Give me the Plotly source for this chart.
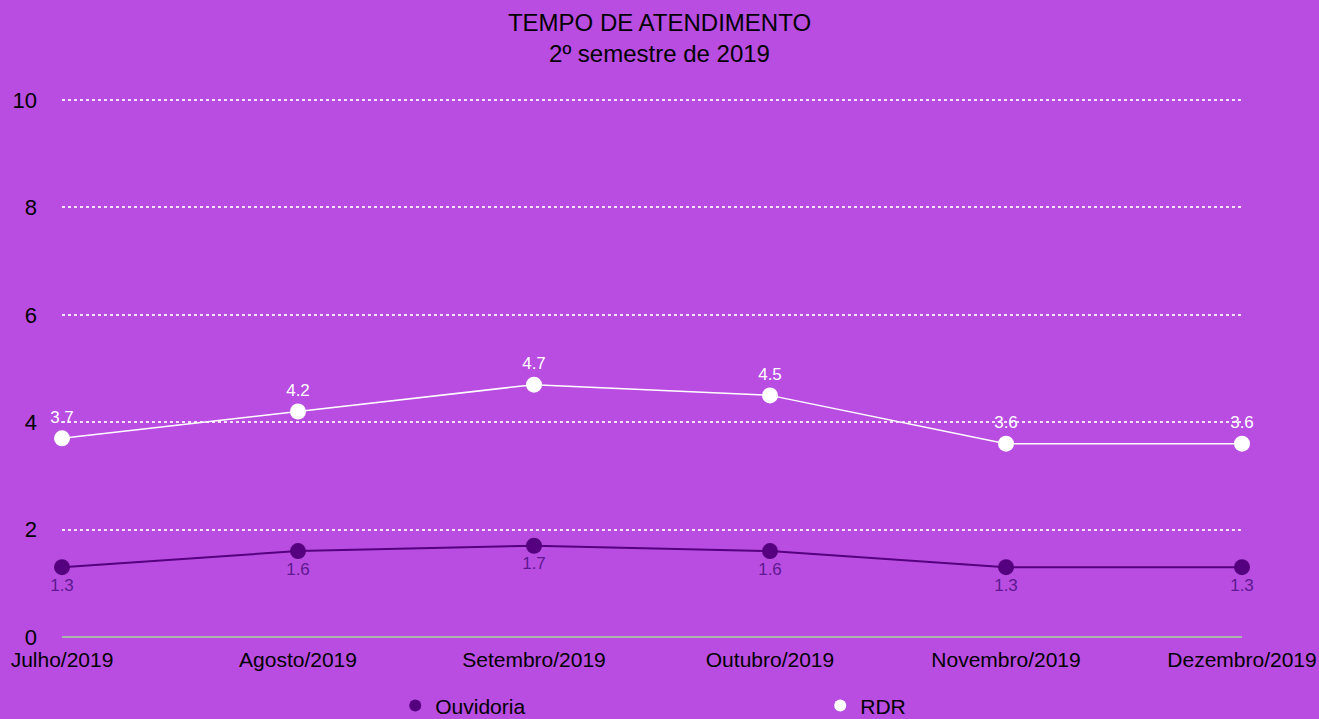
import plotly.graph_objects as go

months = ["Julho/2019", "Agosto/2019", "Setembro/2019", "Outubro/2019", "Novembro/2019", "Dezembro/2019"]
ouvidoria = [1.3, 1.6, 1.7, 1.6, 1.3, 1.3]
rdr = [3.7, 4.2, 4.7, 4.5, 3.6, 3.6]

bg = "#b94de2"
dark = "#55007f"
pos = list(range(len(months)))

fig = go.Figure()
fig.add_trace(go.Scatter(
    x=pos, y=ouvidoria, name="Ouvidoria", mode="lines+markers+text", showlegend=False,
    line=dict(color=dark, width=2), marker=dict(color=dark, size=16),
    text=[str(v) for v in ouvidoria], textposition="bottom center",
    textfont=dict(color="#5e1890", size=17), cliponaxis=False,
))
fig.add_trace(go.Scatter(
    x=pos, y=rdr, name="RDR", mode="lines+markers+text", showlegend=False,
    line=dict(color="white", width=1.5), marker=dict(color="white", size=16),
    text=[str(v) for v in rdr], textposition="top center",
    textfont=dict(color="white", size=17), cliponaxis=False,
))
# legend entries (dot only, like the original)
for name, col in [("Ouvidoria", dark), ("RDR", "white")]:
    fig.add_trace(go.Scatter(x=[None], y=[None], name=name, mode="markers",
                             marker=dict(color=col, size=12)))

fig.update_layout(
    width=1319, height=719,
    paper_bgcolor=bg, plot_bgcolor=bg,
    font=dict(family="Liberation Sans, Arial, sans-serif", color="black"),
    title=dict(text="TEMPO DE ATENDIMENTO<br>2º semestre de 2019", x=0.5, xanchor="center",
               y=1 - 31 / 719, yanchor="middle", font=dict(size=24, color="black")),
    margin=dict(l=62, r=77, t=99, b=82, autoexpand=False),
    showlegend=True,
    legend=dict(orientation="h", x=0.2824, xanchor="left", y=-0.128, yanchor="middle",
                font=dict(size=21), entrywidth=380, itemwidth=30, traceorder="normal"),
    xaxis=dict(tickvals=pos, ticktext=months, range=[0, len(months) - 1],
               showgrid=False, showline=False, zeroline=False, tickfont=dict(size=21),
               ticklabelstandoff=8, fixedrange=True),
    yaxis=dict(range=[0, 10.02], tickvals=[0, 2, 4, 6, 8, 10], showgrid=True,
               gridcolor="rgba(255,255,255,0.85)", griddash="dot", gridwidth=1.5,
               zeroline=True, zerolinecolor="#adb6ad", zerolinewidth=2,
               tickfont=dict(size=22), ticklabelstandoff=24, fixedrange=True),
)

fig.write_html("out.html", config={"displayModeBar": False},
               post_script="document.body.style.margin='0';")
